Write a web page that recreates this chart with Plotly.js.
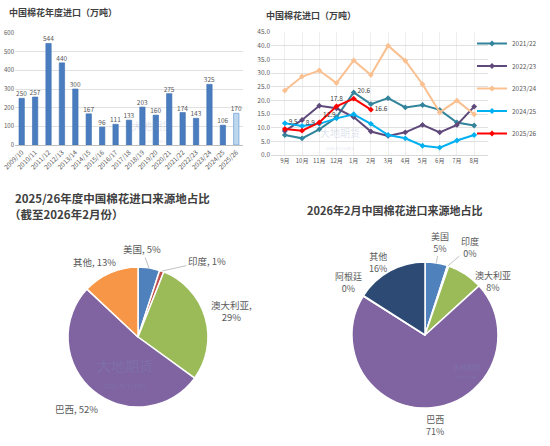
<!DOCTYPE html>
<html><head><meta charset="utf-8">
<script src="https://cdn.plot.ly/plotly-3.0.1.min.js"></script>
<style>html,body{margin:0;padding:0;background:#fff}#c{width:550px;height:446px}</style>
</head><body><div id="c"></div>
<script>
const seasons = ["2009/10","2010/11","2011/12","2012/13","2013/14","2014/15","2015/16","2016/17","2017/18","2018/19","2019/20","2020/21","2021/22","2022/23","2023/24","2024/25","2025/26"];
const annualImports = [250,257,544,440,300,167,96,111,133,203,160,275,174,143,325,106,170];

const months = ["9月","10月","11月","12月","1月","2月","3月","4月","5月","6月","7月","8月"];
const s2122 = [7.3,6.1,9.4,13.8,22.9,18.6,20.8,17.4,18.3,16.5,11.9,10.8];
const s2223 = [8.8,12.8,18.0,17.1,13.9,8.6,7.0,8.3,11.0,8.3,11.0,17.7];
const s2324 = [23.6,28.7,30.9,26.3,34.6,29.3,40.0,34.5,25.9,15.6,19.9,14.9];
const s2425 = [11.6,10.6,11.4,13.4,14.9,11.4,7.3,6.1,3.4,2.7,5.3,7.3];
const s2526 = [9.5,8.9,11.9,17.8,20.6,16.6];

const pie1Labels = ["美国","印度","澳大利亚","巴西","其他"];
const pie1Values = [5,1,29,52,13];
const pie2Labels = ["美国","印度","澳大利亚","巴西","阿根廷","其他"];
const pie2Values = [5,0.3,8,71,0.1,16];

const W = 550, H = 446;
const px = v => v / W, py = v => 1 - v / H;
const FONT = "Noto Sans CJK SC, Noto Sans, sans-serif";
const gray = "#595959";

const barColors = annualImports.map((v,i)=> i===annualImports.length-1 ? "#BDD7EE" : "#4A7DC0");
const barLines = annualImports.map((v,i)=> i===annualImports.length-1 ? "#5B8FD0" : "#3D6EAE");

const traces = [];
traces.push({
  type:"bar", x:seasons, y:annualImports, xaxis:"x", yaxis:"y",
  marker:{color:barColors, line:{color:barLines, width:0.6}},
  text:annualImports.map(String), textposition:"outside", cliponaxis:false, constraintext:"none",
  textfont:{size:6.5, color:gray, family:FONT}, showlegend:false, hoverinfo:"skip"
});

const lineDefs = [
  {name:"2021/22", y:s2122, color:"#31849B"},
  {name:"2022/23", y:s2223, color:"#5F497A"},
  {name:"2023/24", y:s2324, color:"#FAC090"},
  {name:"2024/25", y:s2425, color:"#00B0F0"},
  {name:"2025/26", y:s2526, color:"#FF0000"}
];
lineDefs.forEach((d,i)=>{
  const t = {
    type:"scatter", mode:"lines+markers", name:d.name, legendgroup:"g"+i,
    x:months.slice(0,d.y.length), y:d.y, xaxis:"x2", yaxis:"y2",
    line:{color:d.color, width:2}, marker:{color:d.color, size:4.5, symbol:"diamond"},
    hoverinfo:"skip"
  };
  if (d.name === "2025/26") {
    t.mode = "lines+markers+text";
    t.text = d.y.map(v=>v.toFixed(1));
    t.textposition = ["top right","top right","top right","top center","top right","middle right"];
    t.textfont = {size:6.5, color:"#404040", family:FONT};
    t.cliponaxis = false;
  }
  traces.push(t);
});

// pie geometry (pixels)
const P1 = {cx:138, cy:337, r:70};
const P2 = {cx:425, cy:335, r:73};
const dom = P => ({x:[px(P.cx-P.r), px(P.cx+P.r)], y:[py(P.cy+P.r), py(P.cy-P.r)]});

traces.push({
  type:"pie", labels:pie1Labels, values:pie1Values, sort:false, direction:"clockwise", rotation:0,
  domain:dom(P1), textinfo:"none",
  marker:{colors:["#4F81BD","#C0504D","#9BBB59","#8064A2","#F79646"], line:{color:"#fff", width:1.5}},
  showlegend:false, hoverinfo:"skip"
});
traces.push({
  type:"pie", labels:pie2Labels, values:pie2Values, sort:false, direction:"clockwise", rotation:0,
  domain:dom(P2), textinfo:"none",
  marker:{colors:["#4F81BD","#C0504D","#9BBB59","#8064A2","#4BACC6","#2C4A73"], line:{color:"#fff", width:1.5}},
  showlegend:false, hoverinfo:"skip"
});

// label helpers derived from data
function pieInfo(values){
  const sum = values.reduce((a,b)=>a+b,0);
  let acc = 0;
  return values.map(v=>{ const a0 = acc/sum*360; acc += v; const a1 = acc/sum*360;
    return {mid:(a0+a1)/2, pct:Math.round(v/sum*100)+"%"}; });
}
function edge(P, deg){ const t = deg*Math.PI/180; return [P.cx + P.r*Math.sin(t), P.cy - P.r*Math.cos(t)]; }

const info1 = pieInfo(pie1Values), info2 = pieInfo(pie2Values);
// label placement (pixels): [x, y, leader]
const place1 = {"美国":[142,249,true],"印度":[207,261,true],"澳大利亚":[231,311,false],"巴西":[76,409,false],"其他":[94,262,false]};
const place2 = {"美国":[440,242,true],"印度":[470,247,true],"澳大利亚":[493,281,false],"巴西":[435,425,false],"阿根廷":[348,282,false],"其他":[378,262,false]};

const ann = [];
function addLabels(labels, info, place, P, fmt, size){
  labels.forEach((l,i)=>{
    const [x,y,lead] = place[l];
    const txt = fmt(l, info[i].pct);
    const a = {text:txt, xref:"paper", yref:"paper", showarrow:false, xanchor:"center", yanchor:"middle",
               font:{size:size, color:gray}, align:"center"};
    if (lead) {
      const [ex,ey] = edge(P, info[i].mid);
      Object.assign(a, {x:px(ex), y:py(ey), showarrow:true, arrowhead:0, arrowwidth:0.7, arrowcolor:"#A6A6A6", ax:x-ex, ay:y-ey, standoff:0});
    } else { a.x = px(x); a.y = py(y); }
    ann.push(a);
  });
}
addLabels(pie1Labels, info1, place1, P1, (l,p)=> l==="澳大利亚" ? l+",<br>"+p : l+", "+p, 9.5);
addLabels(pie2Labels, info2, place2, P2, (l,p)=> l+"<br>"+p, 9);

const titles = [
  {text:"<b>中国棉花年度进口（万吨）</b>", x:7, y:13, size:9},
  {text:"<b>中国棉花进口（万吨）</b>", x:264, y:16, size:9},
  {text:"<b>2025/26年度中国棉花进口来源地占比</b>", x:13, y:198, size:11.5},
  {text:"<b>（截至2026年2月份）</b>", x:7, y:214, size:11.5},
  {text:"<b>2026年2月中国棉花进口来源地占比</b>", x:305, y:210, size:11}
];
titles.forEach(t=> ann.push({text:t.text, xref:"paper", yref:"paper", x:px(t.x), y:py(t.y), xanchor:"left", yanchor:"middle", showarrow:false, font:{size:t.size, color:"#404040"}}));
const wm = [[152,131,10,0.25],[340,138,10,0.25],[125,373,14,0.3],[467,371,7,0.35]];
wm.forEach(w=> ann.push({text:"大地期货<br><span style='font-size:"+Math.round(w[2]*0.4)+"px'>DADI FUTURES</span>", xref:"paper", yref:"paper", x:px(w[0]), y:py(w[1]), xanchor:"center", yanchor:"middle", showarrow:false, font:{size:w[2], color:"rgba(120,140,180,"+w[3]+")"}}));

const layout = {
  width:W, height:H, margin:{l:0,r:0,t:0,b:0,autoexpand:false}, paper_bgcolor:"#fff", plot_bgcolor:"#fff",
  font:{family:FONT, color:gray},
  bargap:0.6,
  xaxis:{domain:[px(15),px(243)], anchor:"y", tickangle:-45, tickfont:{size:6.5, color:gray},
         showline:true, linecolor:"#BFBFBF", linewidth:1, ticks:"", fixedrange:true, automargin:false},
  yaxis:{domain:[py(145),py(33)], anchor:"x", range:[0,600], dtick:100, tickfont:{size:6, color:gray},
         gridcolor:"#D9D9D9", gridwidth:0.8, zeroline:false, showline:false, ticks:"", fixedrange:true, automargin:false},
  xaxis2:{domain:[px(271),px(488)], anchor:"y2", tickangle:0, tickfont:{size:6, color:gray},
          showline:true, linecolor:"#D9D9D9", ticks:"", fixedrange:true, automargin:false},
  yaxis2:{domain:[py(155),py(32)], anchor:"x2", range:[0,45], dtick:5, tickformat:".1f",
          tickfont:{size:6.5, color:gray}, gridcolor:"#D9D9D9", gridwidth:0.8, zeroline:false, ticks:"", fixedrange:true, automargin:false},
  showlegend:true,
  legend:{x:px(472), y:py(29), xanchor:"left", yanchor:"top", font:{size:6.5, color:gray},
          tracegroupgap:3.5, bgcolor:"rgba(0,0,0,0)"},
  annotations:ann
};
Plotly.newPlot("c", traces, layout, {staticPlot:true, displayModeBar:false});
</script></body></html>
